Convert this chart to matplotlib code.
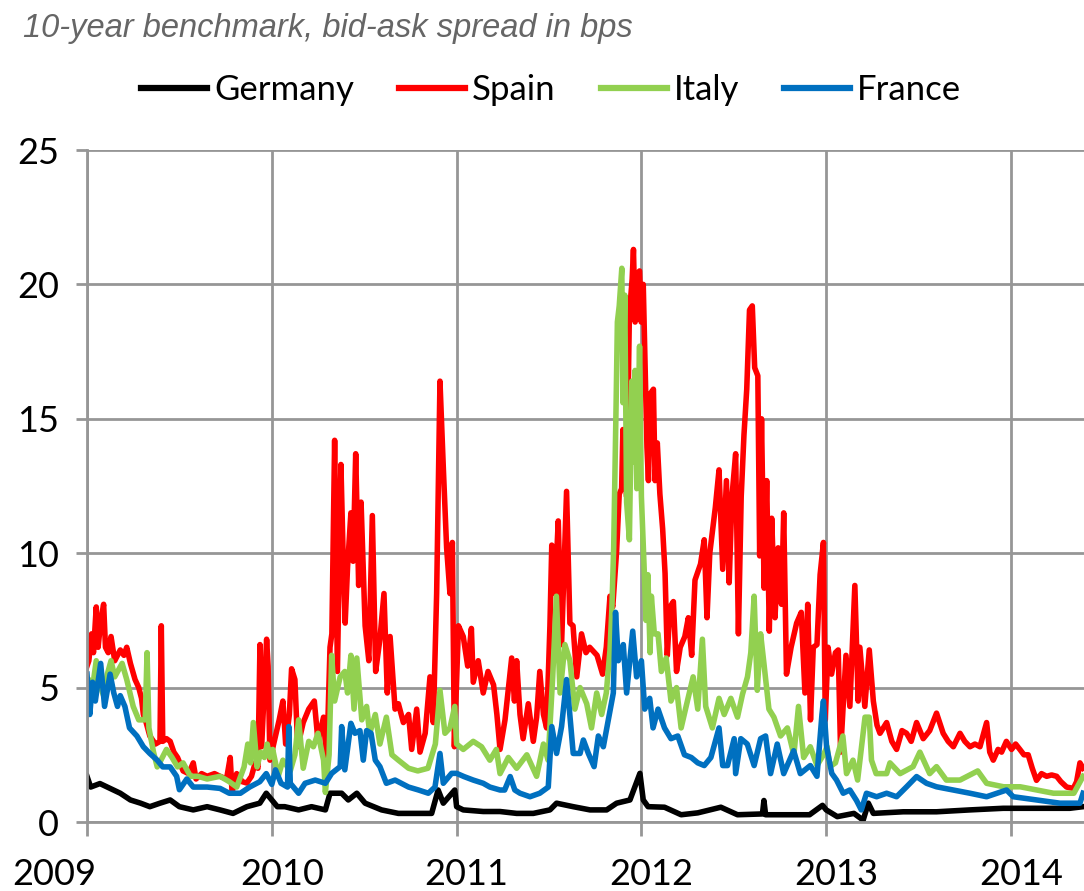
import numpy as np
import matplotlib
matplotlib.use("Agg")
import matplotlib.pyplot as plt
import matplotlib.transforms as mtransforms

# series (time in fractional years, value in bps)
germany_t = [2009.0, 2009.02, 2009.07, 2009.125, 2009.18, 2009.235, 2009.29, 2009.34, 2009.395, 2009.45,
             2009.5, 2009.575, 2009.65, 2009.72, 2009.79, 2009.865, 2009.935, 2009.97, 2010.0, 2010.03,
             2010.07, 2010.145, 2010.215, 2010.29, 2010.315, 2010.378, 2010.414, 2010.46, 2010.505, 2010.594,
             2010.685, 2010.775, 2010.865, 2010.9, 2010.928, 2010.99, 2011.0, 2011.036, 2011.144, 2011.235,
             2011.325, 2011.415, 2011.505, 2011.541, 2011.631, 2011.722, 2011.812, 2011.866, 2011.938, 2011.992,
             2012.01, 2012.036, 2012.125, 2012.215, 2012.305, 2012.43, 2012.52, 2012.655, 2012.663, 2012.672,
             2012.8, 2012.91, 2012.98, 2013.0, 2013.06, 2013.15, 2013.2, 2013.228, 2013.255, 2013.417,
             2013.597, 2013.778, 2013.958, 2014.138, 2014.318, 2014.39]
germany_v = [1.7, 1.3, 1.43, 1.25, 1.07, 0.82, 0.7, 0.57, 0.7, 0.82,
             0.57, 0.45, 0.57, 0.45, 0.32, 0.57, 0.7, 1.07, 0.82, 0.57,
             0.57, 0.45, 0.57, 0.45, 1.07, 1.07, 0.82, 1.07, 0.7, 0.45,
             0.32, 0.32, 0.32, 1.19, 0.7, 1.19, 0.57, 0.45, 0.39, 0.39,
             0.32, 0.32, 0.45, 0.7, 0.57, 0.45, 0.45, 0.7, 0.82, 1.81,
             0.82, 0.57, 0.55, 0.27, 0.34, 0.55, 0.27, 0.3, 0.8, 0.27,
             0.27, 0.27, 0.62, 0.45, 0.2, 0.32, 0.07, 0.7, 0.32, 0.38,
             0.38, 0.45, 0.51, 0.51, 0.51, 0.57]

spain_t = [2009.0, 2009.01, 2009.025, 2009.035, 2009.05, 2009.06, 2009.075, 2009.09, 2009.1, 2009.115,
           2009.13, 2009.15, 2009.18, 2009.2, 2009.215, 2009.235, 2009.26, 2009.28, 2009.295, 2009.305,
           2009.32, 2009.34, 2009.37, 2009.395, 2009.402, 2009.41, 2009.43, 2009.45, 2009.47, 2009.49,
           2009.52, 2009.55, 2009.575, 2009.59, 2009.62, 2009.65, 2009.69, 2009.72, 2009.755, 2009.775,
           2009.785, 2009.81, 2009.84, 2009.865, 2009.89, 2009.91, 2009.925, 2009.936, 2009.945, 2009.96,
           2009.972, 2009.98, 2009.99, 2010.01, 2010.04, 2010.06, 2010.075, 2010.095, 2010.107, 2010.125,
           2010.14, 2010.17, 2010.2, 2010.23, 2010.25, 2010.28, 2010.297, 2010.315, 2010.325, 2010.34,
           2010.355, 2010.374, 2010.385, 2010.397, 2010.41, 2010.428, 2010.44, 2010.454, 2010.47, 2010.483,
           2010.505, 2010.525, 2010.544, 2010.562, 2010.585, 2010.607, 2010.625, 2010.64, 2010.667, 2010.685,
           2010.712, 2010.74, 2010.757, 2010.784, 2010.802, 2010.83, 2010.856, 2010.874, 2010.892, 2010.91,
           2010.928, 2010.946, 2010.964, 2010.977, 2010.988, 2011.01, 2011.036, 2011.06, 2011.08, 2011.09,
           2011.117, 2011.144, 2011.17, 2011.2, 2011.218, 2011.235, 2011.262, 2011.298, 2011.313, 2011.325,
           2011.343, 2011.36, 2011.388, 2011.415, 2011.433, 2011.45, 2011.47, 2011.487, 2011.505, 2011.515,
           2011.532, 2011.55, 2011.568, 2011.577, 2011.595, 2011.613, 2011.63, 2011.65, 2011.676, 2011.7,
           2011.72, 2011.76, 2011.79, 2011.81, 2011.83, 2011.845, 2011.866, 2011.88, 2011.893, 2011.9,
           2011.92, 2011.935, 2011.95, 2011.957, 2011.966, 2011.978, 2011.99, 2011.999, 2012.01, 2012.02,
           2012.03, 2012.038, 2012.05, 2012.065, 2012.074, 2012.086, 2012.1, 2012.115, 2012.128, 2012.14,
           2012.155, 2012.173, 2012.19, 2012.21, 2012.235, 2012.254, 2012.272, 2012.29, 2012.32, 2012.34,
           2012.355, 2012.37, 2012.4, 2012.42, 2012.44, 2012.46, 2012.475, 2012.49, 2012.51, 2012.525,
           2012.54, 2012.555, 2012.57, 2012.585, 2012.6, 2012.613, 2012.63, 2012.64, 2012.65, 2012.664,
           2012.678, 2012.692, 2012.705, 2012.723, 2012.74, 2012.758, 2012.77, 2012.785, 2012.81, 2012.84,
           2012.865, 2012.885, 2012.9, 2012.915, 2012.93, 2012.95, 2012.967, 2012.985, 2012.995, 2013.01,
           2013.029, 2013.05, 2013.065, 2013.078, 2013.107, 2013.128, 2013.155, 2013.173, 2013.182, 2013.209,
           2013.233, 2013.255, 2013.275, 2013.291, 2013.327, 2013.355, 2013.381, 2013.41, 2013.435, 2013.46,
           2013.489, 2013.525, 2013.56, 2013.597, 2013.633, 2013.66, 2013.688, 2013.724, 2013.75, 2013.778,
           2013.805, 2013.832, 2013.868, 2013.885, 2013.904, 2013.93, 2013.949, 2013.975, 2014.003, 2014.025,
           2014.048, 2014.07, 2014.093, 2014.115, 2014.138, 2014.165, 2014.193, 2014.22, 2014.247, 2014.27,
           2014.301, 2014.337, 2014.355, 2014.373, 2014.39]
spain_v = [5.8, 6.0, 7.0, 6.3, 8.0, 6.5, 7.5, 8.1, 6.5, 6.3,
           6.9, 6.0, 6.4, 6.2, 6.5, 5.9, 5.3, 5.0, 4.6, 4.0,
           3.7, 3.2, 2.9, 3.0, 7.3, 3.0, 3.1, 3.0, 2.6, 2.4,
           1.9, 1.8, 2.2, 1.6, 1.8, 1.7, 1.8, 1.7, 1.6, 2.4,
           1.1, 1.8, 1.5, 1.45, 1.7, 2.2, 2.0, 6.6, 2.8, 5.0,
           6.8, 5.8, 2.3, 2.9, 3.8, 4.5, 2.9, 4.0, 5.7, 5.3,
           2.8, 3.7, 4.2, 4.5, 3.0, 3.9, 2.2, 6.5, 7.0, 14.2,
           5.6, 13.3, 10.2, 7.4, 9.5, 11.5, 9.7, 13.7, 8.8, 11.9,
           7.3, 6.0, 11.4, 5.6, 6.8, 8.5, 4.8, 6.9, 4.2, 4.4,
           3.7, 4.0, 2.7, 4.2, 2.6, 3.3, 5.4, 3.7, 8.5, 16.4,
           13.2, 10.2, 8.5, 10.4, 2.8, 7.3, 6.9, 5.8, 7.2, 5.2,
           6.0, 4.8, 5.6, 5.1, 4.0, 2.7, 3.8, 6.1, 4.5, 6.0,
           4.0, 3.1, 4.4, 3.0, 3.9, 5.6, 4.0, 3.5, 7.3, 10.3,
           8.5, 11.2, 6.6, 8.5, 12.3, 7.4, 7.3, 5.4, 7.0, 6.3,
           6.5, 6.2, 5.5, 6.5, 8.4, 8.0, 10.1, 12.2, 12.4, 14.6,
           12.1, 18.9, 20.2, 21.3, 18.6, 20.4, 20.5, 18.6, 20.0, 17.0,
           13.95, 12.7, 15.95, 16.1, 12.7, 14.1, 12.2, 10.9, 9.25, 6.2,
           8.0, 8.2, 5.6, 6.5, 6.9, 7.6, 6.2, 9.0, 9.6, 10.5,
           7.6, 10.0, 11.7, 13.1, 9.4, 12.7, 8.9, 12.1, 13.7, 7.0,
           12.1, 14.4, 16.1, 19.05, 19.2, 16.9, 16.6, 9.9, 15.0, 8.7,
           12.7, 7.1, 11.3, 7.6, 10.2, 8.1, 11.5, 5.5, 6.5, 7.4,
           7.8, 4.8, 8.1, 3.8, 6.5, 6.6, 9.2, 10.4, 3.8, 6.5,
           5.5, 6.3, 6.4, 2.6, 6.2, 4.3, 8.8, 4.5, 6.5, 4.3,
           6.4, 4.5, 3.6, 3.3, 3.7, 3.0, 2.7, 3.4, 3.3, 3.0,
           3.7, 3.1, 3.4, 4.05, 3.3, 3.0, 2.8, 3.3, 3.0, 2.8,
           2.9, 2.8, 3.7, 2.6, 2.3, 2.7, 2.6, 3.0, 2.7, 2.9,
           2.7, 2.5, 2.5, 2.0, 1.55, 1.8, 1.7, 1.75, 1.7, 1.5,
           1.3, 1.25, 1.5, 2.2, 2.0]

italy_t = [2009.0, 2009.01, 2009.03, 2009.05, 2009.065, 2009.09, 2009.11, 2009.13, 2009.15, 2009.19,
           2009.215, 2009.25, 2009.28, 2009.315, 2009.325, 2009.335, 2009.36, 2009.38, 2009.4, 2009.43,
           2009.46, 2009.49, 2009.52, 2009.56, 2009.6, 2009.65, 2009.72, 2009.77, 2009.81, 2009.85,
           2009.87, 2009.885, 2009.9, 2009.92, 2009.94, 2009.96, 2009.975, 2009.99, 2010.005, 2010.02,
           2010.035, 2010.06, 2010.1, 2010.125, 2010.145, 2010.17, 2010.2, 2010.225, 2010.25, 2010.28,
           2010.29, 2010.31, 2010.324, 2010.34, 2010.37, 2010.395, 2010.41, 2010.428, 2010.445, 2010.46,
           2010.487, 2010.513, 2010.53, 2010.56, 2010.585, 2010.62, 2010.65, 2010.685, 2010.74, 2010.79,
           2010.845, 2010.885, 2010.91, 2010.937, 2010.964, 2010.99, 2011.0, 2011.036, 2011.09, 2011.135,
           2011.18, 2011.215, 2011.235, 2011.28, 2011.325, 2011.38, 2011.433, 2011.47, 2011.495, 2011.52,
           2011.54, 2011.56, 2011.586, 2011.613, 2011.64, 2011.668, 2011.704, 2011.73, 2011.758, 2011.785,
           2011.81, 2011.83, 2011.84, 2011.85, 2011.863, 2011.87, 2011.88, 2011.894, 2011.9, 2011.91,
           2011.92, 2011.935, 2011.948, 2011.957, 2011.966, 2011.975, 2011.99, 2012.0, 2012.014, 2012.025,
           2012.035, 2012.047, 2012.054, 2012.07, 2012.09, 2012.108, 2012.134, 2012.16, 2012.19, 2012.215,
           2012.242, 2012.28, 2012.305, 2012.33, 2012.348, 2012.384, 2012.42, 2012.448, 2012.484, 2012.52,
           2012.547, 2012.574, 2012.592, 2012.61, 2012.627, 2012.645, 2012.663, 2012.69, 2012.717, 2012.753,
           2012.79, 2012.825, 2012.85, 2012.878, 2012.914, 2012.95, 2012.985, 2013.005, 2013.02, 2013.05,
           2013.09, 2013.11, 2013.145, 2013.17, 2013.21, 2013.233, 2013.245, 2013.27, 2013.327, 2013.345,
           2013.4, 2013.47, 2013.507, 2013.56, 2013.597, 2013.65, 2013.724, 2013.82, 2013.868, 2013.96,
           2014.05, 2014.14, 2014.23, 2014.34, 2014.39]
italy_v = [4.8, 5.3, 5.0, 6.0, 5.2, 4.7, 5.5, 6.0, 5.4, 5.9,
           5.3, 4.3, 3.8, 3.8, 6.3, 3.5, 2.6, 2.05, 2.3, 2.7,
           2.4, 2.05, 2.2, 1.7, 1.7, 1.6, 1.7, 1.5, 1.3, 2.05,
           2.9, 2.2, 3.7, 2.05, 2.6, 2.4, 2.9, 2.4, 2.7, 2.2,
           1.7, 2.3, 1.9, 2.5, 3.8, 2.0, 3.0, 2.8, 3.3, 2.3,
           1.1, 2.5, 6.2, 4.5, 5.4, 5.6, 4.8, 6.2, 4.2, 6.1,
           3.8, 4.3, 3.3, 4.0, 2.9, 3.9, 2.5, 2.3, 2.0, 1.9,
           2.0, 2.9, 4.9, 3.3, 3.5, 4.3, 2.9, 2.7, 3.0, 2.8,
           2.3, 2.7, 1.8, 2.4, 2.0, 2.5, 1.7, 2.9, 2.3, 5.4,
           8.4, 4.8, 6.6, 6.0, 4.2, 5.0, 4.4, 3.5, 4.8, 4.0,
           4.8, 6.4, 7.9, 10.2, 15.5, 18.6, 19.2, 20.6, 15.6, 19.6,
           11.9, 10.5, 16.4, 13.4, 16.8, 12.4, 17.7, 12.1, 9.6, 7.5,
           9.2, 6.3, 8.4, 7.0, 7.0, 5.6, 6.1, 4.5, 5.0, 3.5,
           4.3, 5.4, 4.2, 6.8, 4.3, 3.5, 4.6, 4.0, 4.6, 3.9,
           4.75, 5.4, 6.3, 8.4, 4.9, 7.0, 5.9, 4.2, 3.9, 3.2,
           3.5, 2.5, 4.3, 2.4, 2.8, 2.1, 2.5, 2.8, 2.06, 2.2,
           3.2, 1.8, 2.3, 1.56, 3.9, 3.9, 2.3, 1.8, 1.8, 2.2,
           1.8, 2.06, 2.6, 1.8, 2.06, 1.56, 1.56, 1.9, 1.44, 1.31,
           1.31, 1.19, 1.07, 1.07, 1.7]

france_t = [2009.0, 2009.015, 2009.03, 2009.045, 2009.074, 2009.095, 2009.125, 2009.145, 2009.165, 2009.18,
            2009.205, 2009.23, 2009.27, 2009.305, 2009.34, 2009.38, 2009.41, 2009.45, 2009.485, 2009.5,
            2009.54, 2009.575, 2009.65, 2009.72, 2009.77, 2009.83, 2009.88, 2009.935, 2009.97, 2010.0,
            2010.02, 2010.05, 2010.085, 2010.092, 2010.1, 2010.145, 2010.18, 2010.235, 2010.29, 2010.324,
            2010.37, 2010.378, 2010.395, 2010.428, 2010.45, 2010.477, 2010.495, 2010.513, 2010.537, 2010.56,
            2010.585, 2010.62, 2010.667, 2010.74, 2010.794, 2010.847, 2010.883, 2010.91, 2010.928, 2010.973,
            2011.0, 2011.04, 2011.09, 2011.144, 2011.18, 2011.235, 2011.26, 2011.29, 2011.315, 2011.343,
            2011.397, 2011.45, 2011.496, 2011.515, 2011.541, 2011.568, 2011.595, 2011.61, 2011.631, 2011.668,
            2011.686, 2011.713, 2011.744, 2011.767, 2011.794, 2011.821, 2011.848, 2011.86, 2011.875, 2011.902,
            2011.92, 2011.953, 2011.974, 2012.0, 2012.018, 2012.045, 2012.063, 2012.09, 2012.125, 2012.16,
            2012.197, 2012.233, 2012.27, 2012.305, 2012.34, 2012.376, 2012.42, 2012.44, 2012.466, 2012.502,
            2012.51, 2012.538, 2012.573, 2012.61, 2012.645, 2012.672, 2012.699, 2012.735, 2012.77, 2012.824,
            2012.86, 2012.914, 2012.95, 2012.977, 2012.985, 2013.002, 2013.03, 2013.056, 2013.092, 2013.128,
            2013.164, 2013.19, 2013.218, 2013.273, 2013.327, 2013.381, 2013.435, 2013.489, 2013.543, 2013.597,
            2013.688, 2013.778, 2013.868, 2013.976, 2014.012, 2014.138, 2014.265, 2014.373, 2014.39]
france_v = [5.5, 4.0, 5.2, 4.5, 5.9, 4.3, 5.5, 4.8, 4.3, 4.7,
            4.3, 3.5, 3.2, 2.8, 2.55, 2.3, 2.05, 2.05, 1.7, 1.2,
            1.6, 1.3, 1.3, 1.25, 1.07, 1.07, 1.3, 1.5, 1.8, 1.4,
            1.94, 1.44, 1.3, 3.55, 1.44, 1.07, 1.44, 1.56, 1.44, 1.81,
            2.06, 3.55, 1.94, 3.67, 3.3, 3.4, 2.3, 3.4, 3.3, 2.3,
            2.06, 1.44, 1.56, 1.3, 1.19, 1.07, 1.3, 2.55, 1.44, 1.81,
            1.81, 1.69, 1.56, 1.44, 1.3, 1.19, 1.19, 1.69, 1.19, 1.07,
            0.94, 1.07, 1.3, 3.55, 2.55, 3.55, 5.3, 4.2, 2.55, 2.55,
            3.05, 2.55, 2.06, 3.2, 2.8, 3.8, 4.8, 7.8, 6.0, 6.6,
            4.8, 7.1, 5.4, 6.0, 4.2, 4.6, 3.5, 4.2, 3.5, 3.1,
            3.2, 2.5, 2.4, 2.2, 2.1, 2.4, 3.5, 2.1, 2.1, 3.1,
            1.8, 3.1, 2.9, 2.1, 3.1, 3.2, 1.8, 2.9, 1.8, 2.65,
            1.8, 2.1, 1.7, 4.0, 4.5, 2.8, 1.81, 1.56, 1.07, 1.19,
            0.8, 0.45, 1.07, 0.94, 1.07, 0.94, 1.31, 1.69, 1.44, 1.31,
            1.19, 1.07, 0.94, 1.19, 0.94, 0.82, 0.7, 0.7, 1.07]

years = [2009, 2010, 2011, 2012, 2013, 2014]
y_ticks = [0, 5, 10, 15, 20, 25]
title = "10-year benchmark, bid-ask spread in bps"

grid_col = "#969696"
label_font = ["Lato", "DejaVu Sans"]

fig = plt.figure(figsize=(10.84, 8.91), dpi=100)
ax = fig.add_axes([87 / 1084, 1 - 822 / 891, (1084 - 87) / 1084, (822 - 150) / 891])

lw = 4.0
ax.plot(germany_t, germany_v, color="black", lw=lw, label="Germany", solid_joinstyle="round")
ax.plot(spain_t, spain_v, color="#FF0000", lw=lw, label="Spain", solid_joinstyle="round")
ax.plot(italy_t, italy_v, color="#92D050", lw=lw, label="Italy", solid_joinstyle="round")
ax.plot(france_t, france_v, color="#0070C0", lw=lw, label="France", solid_joinstyle="round")

ax.set_xlim(2009, 2014.395)
ax.set_ylim(0, 25)
ax.set_yticks(y_ticks)
ax.set_xticks(years)
ax.set_xticklabels([str(y) for y in years])
ax.grid(True, color=grid_col, lw=2)
ax.set_axisbelow(True)
for s in ["top", "right"]:
    ax.spines[s].set_visible(False)
for s in ["left", "bottom"]:
    ax.spines[s].set_color(grid_col)
    ax.spines[s].set_linewidth(2)
ax.tick_params(axis="y", length=8, width=2, color=grid_col, pad=12, labelsize=26)
ax.tick_params(axis="x", length=10, width=2, color=grid_col, pad=16, labelsize=26)
for lab in ax.get_xticklabels() + ax.get_yticklabels():
    lab.set_family(label_font)

# shift x labels like the original (first one pushed left to fit)
for lab, y in zip(ax.get_xticklabels(), years):
    dx = -33 if y == 2009 else 10
    lab.set_transform(lab.get_transform() + mtransforms.ScaledTranslation(dx / 100, 0, fig.dpi_scale_trans))

fig.text(23 / 1084, 1 - 29 / 891, title, fontsize=23.5, style="italic", color="#666666",
         family="Liberation Sans", va="center", ha="left")

leg = fig.legend(loc="center", bbox_to_anchor=(551 / 1084, 1 - 90 / 891), ncol=4, frameon=False,
                 prop={"family": label_font, "size": 25}, handlelength=1.9, handletextpad=0.2,
                 columnspacing=1.3)
for h in leg.get_lines():
    h.set_linewidth(4.5)

fig.savefig("out.png", dpi=100)
